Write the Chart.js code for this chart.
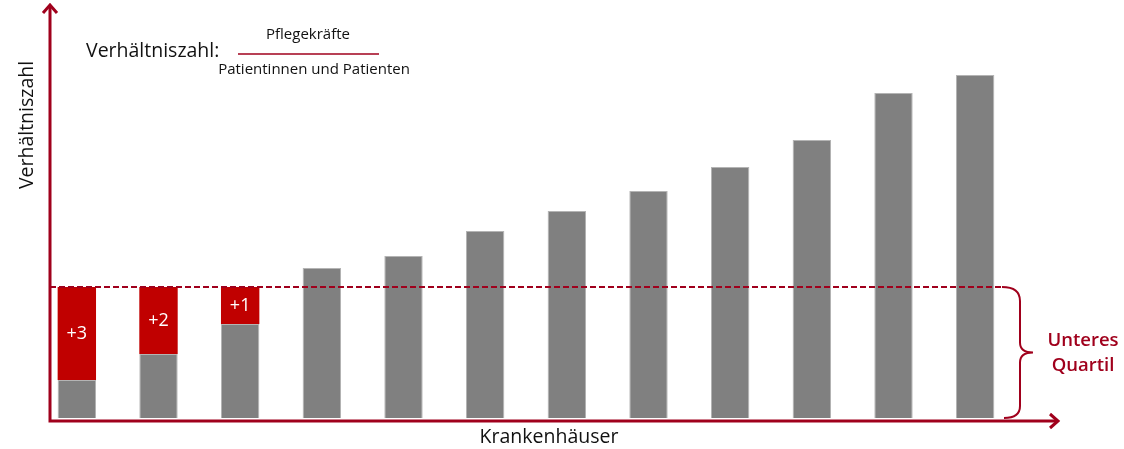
<!DOCTYPE html>
<html>
<head>
<meta charset="utf-8">
<script src="https://cdn.jsdelivr.net/npm/chart.js@4"></script>
<style>
	html, body { margin: 0; padding: 0; background: #fff; }
	#wrap { width: 1124px; height: 449px; position: relative; }
</style>
</head>
<body>
<div id="wrap"><canvas id="chart" width="1124" height="449"></canvas></div>
<script>
// hospitals (no names on the axis)
var hospitals = ['1', '2', '3', '4', '5', '6', '7', '8', '9', '10', '11', '12'];
// ratio per hospital, arbitrary units (no ticks shown)
var ratio = [38, 64, 94, 150, 162, 187, 207, 227, 251, 278, 325, 343];
// extra needed to reach the lower quartile
var gap = [93, 67, 37, 0, 0, 0, 0, 0, 0, 0, 0, 0];
var gapLabels = ['+3', '+2', '+1'];
var quartile = 131;

var darkRed = '#a0001c';
var font = '"Open Sans", "DejaVu Sans", sans-serif';

var decor = {
	id: 'decor',
	afterDatasetsDraw: function (chart) {
		var ctx = chart.ctx;
		var y = chart.scales.y;
		var qy = y.getPixelForValue(quartile);
		var by = y.getPixelForValue(0);
		var axisY = by + 3;

		ctx.save();
		// labels inside the red parts
		var meta = chart.getDatasetMeta(1);
		ctx.fillStyle = '#fff';
		ctx.font = '18px ' + font;
		ctx.textAlign = 'center';
		ctx.textBaseline = 'middle';
		gapLabels.forEach(function (t, i) {
			var bar = meta.data[i];
			ctx.fillText(t, bar.x, (bar.y + bar.base) / 2);
		});

		// dashed quartile line
		ctx.strokeStyle = darkRed;
		ctx.lineWidth = 2;
		ctx.setLineDash([6, 3]);
		ctx.beginPath();
		ctx.moveTo(50, qy);
		ctx.lineTo(1002, qy);
		ctx.stroke();
		ctx.setLineDash([]);

		// brace
		var mid = (qy + by) / 2;
		ctx.beginPath();
		ctx.moveTo(1002, qy);
		ctx.quadraticCurveTo(1020, qy, 1020, qy + 14);
		ctx.lineTo(1020, mid - 10);
		ctx.quadraticCurveTo(1020, mid, 1033, mid);
		ctx.quadraticCurveTo(1020, mid, 1020, mid + 10);
		ctx.lineTo(1020, by - 12);
		ctx.quadraticCurveTo(1020, by, 1004, by);
		ctx.stroke();

		ctx.fillStyle = darkRed;
		ctx.font = '600 18.5px ' + font;
		ctx.fillText('Unteres', 1083, mid - 12);
		ctx.fillText('Quartil', 1083, mid + 13);

		// axes with arrows
		ctx.lineWidth = 3;
		ctx.lineCap = 'butt';
		ctx.beginPath();
		ctx.moveTo(50, axisY + 1.5);
		ctx.lineTo(50, 6);
		ctx.moveTo(48.5, axisY);
		ctx.lineTo(1058, axisY);
		ctx.stroke();
		ctx.lineJoin = 'miter';
		ctx.beginPath();
		ctx.moveTo(43, 13);
		ctx.lineTo(50, 5);
		ctx.lineTo(57, 13);
		ctx.moveTo(1050, axisY - 7);
		ctx.lineTo(1058, axisY);
		ctx.lineTo(1050, axisY + 7);
		ctx.stroke();

		// axis titles
		ctx.fillStyle = '#111';
		ctx.font = '19.5px ' + font;
		ctx.fillText('Krankenhäuser', 549, 437);
		ctx.save();
		ctx.translate(27, 125);
		ctx.rotate(-Math.PI / 2);
		ctx.fillText('Verhältniszahl', 0, 0);
		ctx.restore();

		// formula
		ctx.textAlign = 'left';
		ctx.fillText('Verhältniszahl:', 86, 51);
		ctx.textAlign = 'center';
		ctx.font = '15px ' + font;
		ctx.fillText('Pflegekräfte', 308, 35);
		ctx.fillText('Patientinnen und Patienten', 314, 70);
		ctx.strokeStyle = darkRed;
		ctx.lineWidth = 1.5;
		ctx.beginPath();
		ctx.moveTo(238, 54);
		ctx.lineTo(379, 54);
		ctx.stroke();
		ctx.restore();
	}
};

var ctx = document.getElementById('chart').getContext('2d');
var chart = new Chart(ctx, {
	type: 'bar',
	data: {
		labels: hospitals,
		datasets: [{
			data: ratio,
			backgroundColor: '#808080',
			borderColor: '#b4b4b4',
			borderWidth: 1,
			barPercentage: 0.47,
			categoryPercentage: 1
		}, {
			data: gap,
			backgroundColor: '#c00000',
			borderWidth: 0,
			barPercentage: 0.47,
			categoryPercentage: 1
		}]
	},
	options: {
		responsive: false,
		animation: false,
		layout: { padding: { left: 36, right: 108, top: 5, bottom: 31 } },
		plugins: { legend: { display: false }, tooltip: { enabled: false } },
		scales: {
			x: { stacked: true, display: false },
			y: { stacked: true, display: false, min: 0, max: 413 }
		}
	},
	plugins: [decor]
});
</script>
</body>
</html>
